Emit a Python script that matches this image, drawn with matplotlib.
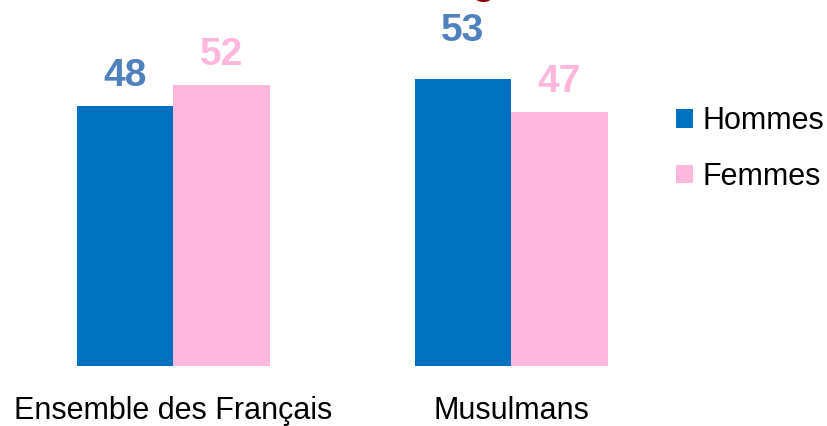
import numpy as np
import matplotlib
matplotlib.use('Agg')
import matplotlib.pyplot as plt
from matplotlib.transforms import blended_transform_factory

categories = ['Ensemble des Français', 'Musulmans']
hommes = [48, 53]
femmes = [52, 47]
series_names = ['Hommes', 'Femmes']

blue = '#0070C0'
pink = '#FFB7DD'
label_blue = '#4F81BD'
label_pink = '#FFB7DD'

W, H = 827, 426
fig = plt.figure(figsize=(W / 100, H / 100), dpi=100)

base_px = 365.7          # baseline, from top
px_per_unit = 5.4
ax = fig.add_axes([0, (H - base_px) / H, 1, base_px / H])
ax.set_ylim(0, base_px / px_per_unit)

c0, c1 = 173, 511        # group centers in px
span = c1 - c0
ax.set_xlim(-c0 / span, (W - c0) / span)
ax.axis('off')

x = np.arange(len(categories))
w = 96.5 / span

b1 = ax.bar(x - w / 2, hommes, w, color=blue, label=series_names[0])
b2 = ax.bar(x + w / 2, femmes, w, color=pink, label=series_names[1])

lab_font = dict(family='Liberation Sans', weight='bold', fontsize=28)
offs_h = [20, 38]
offs_f = [20, 20]
for i in range(len(categories)):
    ax.annotate(str(hommes[i]), (x[i] - w / 2, hommes[i]), xytext=(0, offs_h[i]),
                textcoords='offset pixels', ha='center', va='baseline',
                color=label_blue, **lab_font)
    ax.annotate(str(femmes[i]), (x[i] + w / 2, femmes[i]), xytext=(0, offs_f[i]),
                textcoords='offset pixels', ha='center', va='baseline',
                color=label_pink, **lab_font)

# category names under the bars
tr = blended_transform_factory(ax.transData, fig.transFigure)
for i, name in enumerate(categories):
    ax.text(x[i], 7 / H, name, transform=tr, ha='center', va='baseline',
            family='Liberation Sans', fontsize=22, color='black', clip_on=False)

leg = fig.legend(handles=[b1, b2], labels=series_names,
                 loc='upper left', bbox_to_anchor=(676 / W, 1 - 106 / H),
                 frameon=False, prop=dict(family='Liberation Sans', size=22),
                 handlelength=0.56, handleheight=0.56, handletextpad=0.3,
                 labelspacing=0.85, borderpad=0, borderaxespad=0)

# bottom of the cut-off title
fig.text(483 / W, 1 + 5.5 / H, 'g', ha='center', va='baseline', color='#8B0000',
         family='Liberation Sans', weight='bold', fontsize=28)

fig.savefig('out.png', dpi=100)
